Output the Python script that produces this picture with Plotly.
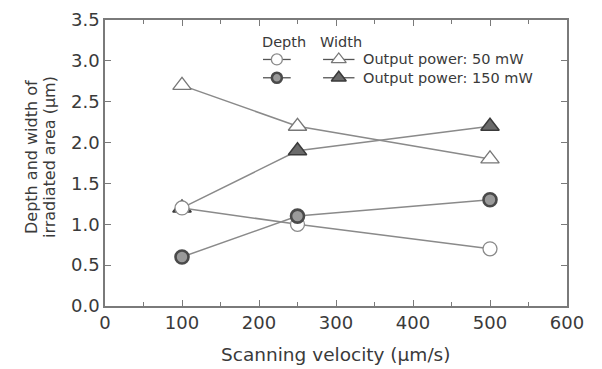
import plotly.graph_objects as go

velocity = [100, 250, 500]
depth_50 = [1.2, 1.0, 0.7]
depth_150 = [0.6, 1.1, 1.3]
width_50 = [2.7, 2.2, 1.8]
width_150 = [1.2, 1.9, 2.2]

x_ticks = [0, 100, 200, 300, 400, 500, 600]
y_ticks = [0.0, 0.5, 1.0, 1.5, 2.0, 2.5, 3.0, 3.5]

LINE = "#8a8a8a"
AX = "#7a7a7a"
TXT = "#3a3a3a"
FONT = "DejaVu Sans, Verdana, sans-serif"

open_circle = dict(symbol="circle", size=14, color="white", line=dict(color="#8a8a8a", width=1.3))
fill_circle = dict(symbol="circle", size=13, color="#9a9a9a", line=dict(color="#4a4a4a", width=2.6))
open_tri = dict(symbol="triangle-up", size=16, color="white", line=dict(color="#777777", width=1.3))
fill_tri = dict(symbol="triangle-up", size=16, color="#6a6a6a", line=dict(color="#3a3a3a", width=1.5))

fig = go.Figure()
for ys, mk in [(width_50, open_tri), (width_150, fill_tri), (depth_50, open_circle), (depth_150, fill_circle)]:
    fig.add_trace(go.Scatter(x=velocity, y=ys, mode="lines+markers",
                             line=dict(color=LINE, width=1.5), marker=mk,
                             showlegend=False, cliponaxis=False))

# custom legend drawn on an overlay axis in [0,1]
leg_rows = [(0.862, open_circle, open_tri, "Output power: 50 mW"),
            (0.798, fill_circle, fill_tri, "Output power: 150 mW")]
cx, tx = 0.372, 0.506
for yy, cm, tm, label in leg_rows:
    for xc, mk, half in [(cx, cm, 0.030), (tx, tm, 0.034)]:
        fig.add_trace(go.Scatter(x=[xc - half, xc, xc + half], y=[yy, yy, yy],
                                 mode="lines", line=dict(color="#555555", width=1.3),
                                 xaxis="x2", yaxis="y2", showlegend=False, hoverinfo="skip"))
        small = dict(mk)
        small["size"] = mk["size"] - 3
        fig.add_trace(go.Scatter(x=[xc], y=[yy], mode="markers", marker=small,
                                 xaxis="x2", yaxis="y2", showlegend=False, hoverinfo="skip"))
    fig.add_annotation(x=0.556, y=yy, xref="x2", yref="y2", text=label, showarrow=False,
                       xanchor="left", yanchor="middle", borderpad=0,
                       font=dict(family=FONT, size=14.5, color=TXT))
fig.add_annotation(x=0.387, y=0.922, xref="x2", yref="y2", text="Depth", showarrow=False,
                   xanchor="center", yanchor="middle", borderpad=0,
                   font=dict(family=FONT, size=14.5, color=TXT))
fig.add_annotation(x=0.511, y=0.922, xref="x2", yref="y2", text="Width", showarrow=False,
                   xanchor="center", yanchor="middle", borderpad=0,
                   font=dict(family=FONT, size=14.5, color=TXT))

# axis titles
fig.add_annotation(x=0.498, y=-0.168, xref="paper", yref="paper", text="Scanning velocity (µm/s)",
                   showarrow=False, xanchor="center", yanchor="middle",
                   font=dict(family=FONT, size=18.5, color=TXT))
for xpos, line in [(-0.158, "Depth and width of"), (-0.119, "irradiated area (µm)")]:
    fig.add_annotation(x=xpos, y=0.521, xref="paper", yref="paper", text=line, textangle=-90,
                       showarrow=False, xanchor="center", yanchor="middle",
                       font=dict(family=FONT, size=16, color=TXT))

# page body has an 8px margin: figure is sized/offset so the plot lands where the reference has it
fig.update_layout(
    width=594, height=361,
    margin=dict(l=97, r=35, t=12, b=63),
    paper_bgcolor="white", plot_bgcolor="white",
    font=dict(family=FONT, color=TXT),
    xaxis=dict(range=[0, 600], tickvals=x_ticks, ticks="inside", ticklen=6, tickwidth=1.3,
               tickcolor=AX, showline=True, linecolor=AX, linewidth=1.6, mirror="ticks",
               showgrid=False, zeroline=False, tickfont=dict(size=18, color=TXT), automargin=False,
               minor=dict(tickvals=[50, 150, 250, 350, 450, 550], ticks="inside", ticklen=4, tickcolor=AX)),
    yaxis=dict(range=[0, 3.5], tickvals=y_ticks, tickformat=".1f", ticks="inside", ticklen=6,
               tickwidth=1.3, tickcolor=AX, showline=True, linecolor=AX, linewidth=1.6, mirror="ticks",
               showgrid=False, zeroline=False, tickfont=dict(size=18, color=TXT), automargin=False),
    xaxis2=dict(range=[0, 1], overlaying="x", visible=False, fixedrange=True),
    yaxis2=dict(range=[0, 1], overlaying="y", visible=False, fixedrange=True),
)

fig.write_html("out.html")
